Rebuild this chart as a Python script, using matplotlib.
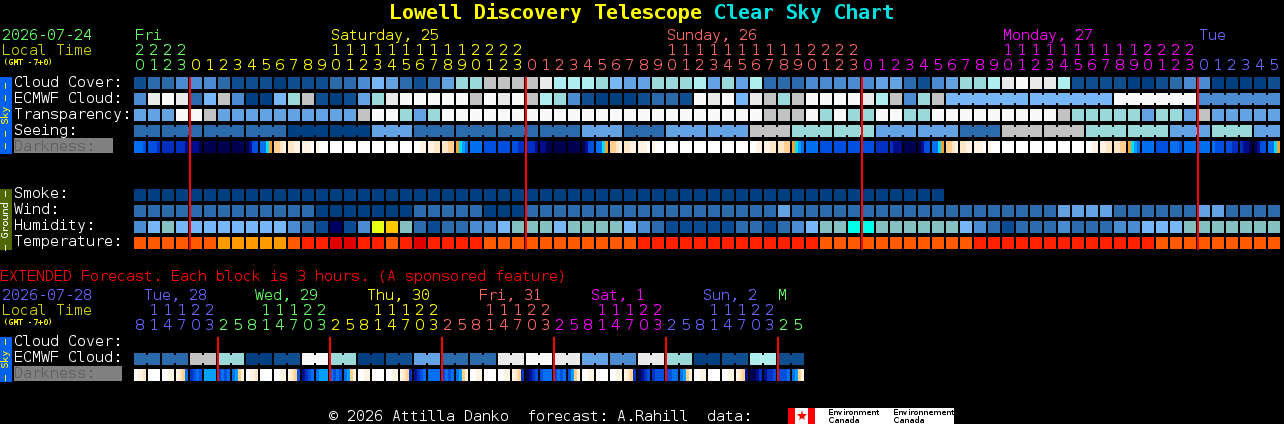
from __future__ import annotations

import matplotlib

matplotlib.use("Agg")
import matplotlib.pyplot as plt
from matplotlib.patches import Rectangle

plt.rcParams["text.antialiased"] = True
plt.rcParams["text.hinting"] = "native"
plt.rcParams["text.hinting_factor"] = 1
plt.rcParams["font.family"] = ["DejaVu Sans Mono"]

GREEN = "#66FF66"
YELLOW = "#FFFF00"
SALMON = "#FF6666"
MAGENTA = "#FF00FF"
BLUE = "#6666FF"
OLIVE = "#CCCC00"

# sky rows use 0 (clear / dark blue) ... 10 (overcast / white)
cloud_cover = [
    1, 2, 2, 3, 3, 3, 2, 1, 1, 1, 0, 1, 1, 1, 2, 2, 3, 5, 4, 2, 1,
    2, 4, 6, 6, 8, 8, 8, 8, 9, 7, 7, 7, 6, 5, 4, 4, 6, 6, 6, 7, 4, 6, 4, 7, 2, 2, 2, 3, 3, 3, 3,
    3, 4, 4, 2, 1, 3, 4, 6, 6, 7, 9, 10, 9, 9, 7, 1, 1, 1, 1, 0, 0, 1, 2, 3, 3, 0, 0, 0, 0, 1,
]
ecmwf_cloud = [
    3, 9, 10, 9, 2, 5, 8, 3, 0, 0, 5, 6, 8, 1, 0, 1, 4, 6, 9, 10, 10,
    10, 10, 10, 8, 10, 9, 10, 8, 7, 6, 3, 1, 0, 0, 0, 1, 2, 2, 1, 10, 9, 10, 5, 9, 8, 6, 8, 10, 10, 10, 10,
    9, 7, 8, 3, 6, 8, 5, 5, 5, 5, 5, 5, 5, 5, 5, 5, 5, 5, 10, 10, 10, 10, 10, 10, 3, 3, 3, 3, 3, 3,
]
transparency = [
    4, 4, 4, 10, 10, 8, 4, 4, 4, 4, 4, 4, 4, 4, 4, 4, 8, 10, 10, 6, 4,
    6, 10, 10, 10, 10, 10, 10, 10, 10, 10, 10, 10, 10, 10, 10, 10, 10, 10, 10, 10, 10, 10, 10, 10,
    8, 8, 8, 10, 6, 10, 6,
    6, 10, 10, 6, 6, 10, 10, 10, 10, 10, 10, 10, 10, 10, 8, 6, 6, 6, 6, 6, 4, 6, 6, 4, 8, 4, 4, 4, 4, 4,
]
# seeing comes in 3 hour runs
seeing_runs = [2, 3, 3, 3, 3, 3, 3, 3, 3, 3, 3, 3, 3, 3, 3, 3, 3, 3, 3, 3, 3, 3, 3, 3, 3, 3, 3, 2]
seeing_values = [2, 2, 2, 2, 0, 0, 4, 2, 2, 2, 2, 4, 2, 4, 4, 8, 6, 6, 4, 4, 2, 8, 8, 6, 6, 4, 6, 4]
smoke = [0] * 58
wind = [
    2, 2, 2, 2, 2, 2, 2, 2, 2, 2, 2, 2, 2, 0, 0, 0, 0, 0, 0, 0, 2,
    2, 2, 2, 2, 0, 0, 0, 2, 2, 2, 2, 2, 2, 2, 2, 2, 2, 2, 2, 2, 2, 2, 2, 2, 2, 4, 2, 2, 2, 2, 2,
    2, 2, 2, 2, 2, 2, 2, 2, 2, 2, 2, 2, 2, 2, 4, 4, 4, 4, 2, 2, 2, 2, 2, 2, 4, 4, 2, 2, 2, 2,
]
# humidity: index into humidity_colors
humidity = [
    3, 4, 5, 4, 4, 4, 4, 4, 4, 4, 4, 3, 2, 1, 0, 1, 3, 7, 8, 5, 2,
    1, 2, 2, 3, 3, 4, 5, 5, 5, 4, 5, 5, 5, 5, 4, 3, 2, 1, 1, 1, 1, 1, 2, 2, 1, 2, 3, 4, 5, 5, 6,
    6, 5, 5, 5, 5, 5, 5, 4, 3, 2, 1, 2, 2, 2, 3, 2, 2, 2, 3, 3, 4, 4, 4, 5, 5, 5, 5, 5, 5, 5,
]
# temperature: index into temperature_colors
temperature = [
    2, 2, 2, 2, 2, 2, 3, 3, 3, 3, 3, 2, 1, 1, 0, 0, 1, 1, 2, 1, 0,
    1, 1, 1, 1, 2, 2, 2, 2, 2, 2, 2, 2, 2, 2, 2, 1, 1, 1, 1, 1, 1, 1, 1, 1, 1, 1, 1, 1, 2, 2, 2,
    2, 2, 2, 2, 2, 2, 2, 2, 1, 1, 1, 1, 1, 1, 1, 1, 1, 1, 1, 1, 1, 2, 2, 2, 2, 2, 2, 2, 2, 2,
]
# four samples per block, 0 (navy) .. 9, a, b (white)
darkness = [
    "4443", "3332", "2222", "2221", "1110", "0000", "0000", "0000", "0133", "4467", "889a", "99aa",
    "aaab", "abbb", "bbbb", "bbbb", "bbbb", "bbbb", "bbbb", "bbbb", "bbaa", "aa99", "9988", "7654",
    "4444", "3333", "3333", "3322", "2221", "1100", "0000", "0000", "0133", "4467", "889a", "99aa",
    "aaab", "abbb", "bbbb", "bbbb", "bbbb", "bbbb", "bbbb", "bbbb", "bbaa", "aa99", "9988", "7654",
    "4444", "3333", "3333", "3333", "3333", "2222", "2111", "0000", "0133", "4467", "889a", "99aa",
    "aaab", "abbb", "bbbb", "bbbb", "bbbb", "bbbb", "bbbb", "bbbb", "bbaa", "aa99", "9988", "7654",
    "4444", "3333", "4443", "4444", "4444", "4333", "3322", "2110", "0133", "4467",
]
hour_labels = [
    20, 21, 22, 23, 0, 1, 2, 3, 4, 5, 6, 7, 8, 9, 10, 11, 12, 13, 14, 15, 16, 17, 18, 19, 20, 21, 22, 23,
    0, 1, 2, 3, 4, 5, 6, 7, 8, 9, 10, 11, 12, 13, 14, 15, 16, 17, 18, 19, 20, 21, 22, 23,
    0, 1, 2, 3, 4, 5, 6, 7, 8, 9, 10, 11, 12, 13, 14, 15, 16, 17, 18, 19, 20, 21, 22, 23,
    0, 1, 2, 3, 4, 5,
]
hour_spans = [4, 24, 24, 24, 6]
hour_span_colors = [GREEN, YELLOW, SALMON, MAGENTA, BLUE]
day_names = ["Fri", "Saturday, 25", "Sunday, 26", "Monday, 27", "Tue"]
day_x = [135, 331, 667, 1003, 1199]

ext_ecmwf = [2, 2, 8, 6, 0, 1, 10, 6, 0, 1, 4, 2, 2, 9, 10, 9, 4, 3, 9, 6, 0, 1, 7, 1]
ext_darkness = [
    "baa9", "bbbb", "bbaa", "a984", "2343", "5555", "3434", "458a",
    "baa9", "bbbb", "bbaa", "a983", "1234", "4555", "4343", "458a",
    "bbaa", "bbbb", "bbaa", "a982", "1234", "4444", "3434", "458a",
    "bbaa", "bbbb", "bbaa", "a982", "0123", "3444", "3434", "358a",
    "bbaa", "bbbb", "bbaa", "a982", "0123", "2333", "3344", "458a",
    "bbaa", "bbbb", "bbaa", "a981", "0012", "1223", "3334", "458a",
]
ext_hour_labels = [
    8, 11, 14, 17, 20, 23, 2, 5, 8, 11, 14, 17, 20, 23, 2, 5, 8, 11, 14, 17, 20, 23, 2, 5,
    8, 11, 14, 17, 20, 23, 2, 5, 8, 11, 14, 17, 20, 23, 2, 5, 8, 11, 14, 17, 20, 23, 2, 5,
]
ext_hour_spans = [6, 8, 8, 8, 8, 8, 2]
ext_hour_span_colors = [BLUE, GREEN, YELLOW, SALMON, MAGENTA, BLUE, GREEN]
ext_day_names = ["Tue, 28", "Wed, 29", "Thu, 30", "Fri, 31", "Sat, 1", "Sun, 2", "M"]
ext_day_x = [144, 255, 367, 479, 591, 703, 778]
ext_day_colors = [BLUE, GREEN, YELLOW, SALMON, MAGENTA, BLUE, GREEN]

sky_colors = [
    "#003F7F", "#0F4F8F", "#2B6BAB", "#4B8BCF", "#63A3E3", "#77B7F7",
    "#99D9D9", "#AEEEEE", "#C2C2C2", "#EAEAEA", "#F9F9F9",
]
humidity_colors = ["#000060", "#0A4A90", "#2C6CAC", "#4A8CD0", "#77B7F7", "#84C0C0", "#00FFE6", "#E6FF14", "#FFC800"]
temperature_colors = ["#E00000", "#FF2000", "#FF5A00", "#FF9A00"]
darkness_colors = {
    "0": "#000050", "1": "#000E8C", "2": "#0030C0", "3": "#0050E0", "4": "#0070F0", "5": "#00A0FF",
    "6": "#00E0FF", "7": "#FFA030", "8": "#FFCF90", "9": "#FFE6C6", "a": "#FFF4E4", "b": "#FFFFFF",
}

X0 = 134
PITCH = 14
BLOCK = 12


def box(ax, x, y, w, h, color):
    ax.add_patch(Rectangle((x, y), w, h, facecolor=color, edgecolor="none", linewidth=0, antialiased=False))


def label(ax, x, y, s, color="white", size=10.8, **kw):
    ax.text(x, y, s, color=color, fontsize=size, va="baseline", ha=kw.pop("ha", "left"), **kw)


def draw_row(ax, values, y, colors, runs=None, run_start=0):
    for i, v in enumerate(values):
        box(ax, X0 + PITCH * i, y, BLOCK, BLOCK, colors[v])
    if runs is None:
        return
    # the bridge between blocks of one run is narrower than the block
    i = run_start
    for n in runs:
        for k in range(i, i + n - 1):
            box(ax, X0 + PITCH * k + BLOCK, y + 2, PITCH - BLOCK, BLOCK - 4, colors[values[k]])
        i += n


def draw_darkness(ax, blocks, y):
    for i, samples in enumerate(blocks):
        for k, s in enumerate(samples):
            box(ax, X0 + PITCH * i + 3 * k, y, 3, BLOCK, darkness_colors[s])


def draw_hours(ax, hours, spans, colors, tens_y, ones_y):
    span_colors = []
    for n, c in zip(spans, colors):
        span_colors += [c] * n
    for i, h in enumerate(hours):
        cx = X0 + PITCH * i + 6
        if h >= 10:
            ax.text(cx, tens_y, str(h // 10), color=span_colors[i], fontsize=10.8, ha="center", va="baseline",
                    family="DejaVu Sans")
        ax.text(cx, ones_y, str(h % 10), color=span_colors[i], fontsize=10.8, ha="center", va="baseline",
                family="DejaVu Sans")


def side_bar(ax, y, h, color, text, text_color):
    box(ax, 0, y, 12, h, color)
    ax.text(6, y + h / 2, text, color=text_color, fontsize=7.2, rotation=90, ha="center", va="center")


fig = plt.figure(figsize=(12.84, 4.24), dpi=100, facecolor="black")
ax = fig.add_axes([0, 0, 1, 1])
ax.set_xlim(0, 1284)
ax.set_ylim(424, 0)
ax.axis("off")

# title
label(ax, 390, 19, "Lowell Discovery Telescope", YELLOW, 14.3, fontweight="bold")
label(ax, 714, 19, "Clear Sky Chart", "#00E0E0", 14.3, fontweight="bold")

# header of the hourly chart
label(ax, 2, 40, "2026-07-24", GREEN)
label(ax, 2, 55, "Local Time", OLIVE)
label(ax, 3, 65, "(GMT -7+0)", YELLOW, 5.6)
for name, x, color in zip(day_names, day_x, hour_span_colors):
    label(ax, x, 40, name, color)
draw_hours(ax, hour_labels, hour_spans, hour_span_colors, 55, 70)

side_bar(ax, 77, 77, "#0060F0", "– – Sky – –", YELLOW)
side_bar(ax, 189, 61, "#4F6800", "– Ground –", "white")

label(ax, 14, 87, "Cloud Cover:")
label(ax, 14, 103, "ECMWF Cloud:")
label(ax, 14, 119, "Transparency:")
label(ax, 14, 135, "Seeing:")
box(ax, 14, 138, 99, 15, "#808080")
label(ax, 14, 151, "Darkness:", "#5F5F5F")
label(ax, 14, 198, "Smoke:")
label(ax, 14, 214, "Wind:")
label(ax, 14, 230, "Humidity:")
label(ax, 14, 246, "Temperature:")

seeing = []
for n, v in zip(seeing_runs, seeing_values):
    seeing += [v] * n

draw_row(ax, cloud_cover, 77, sky_colors)
draw_row(ax, ecmwf_cloud, 93, sky_colors, runs=[6, 6, 6, 6], run_start=58)
draw_row(ax, transparency, 109, sky_colors)
draw_row(ax, seeing, 125, sky_colors, runs=seeing_runs)
draw_darkness(ax, darkness, 141)
draw_row(ax, smoke, 189, sky_colors)
draw_row(ax, wind, 205, sky_colors)
draw_row(ax, humidity, 221, humidity_colors)
draw_row(ax, temperature, 237, temperature_colors)

for x in [189, 525, 861, 1197]:
    box(ax, x, 77, 2, 173, "#FF0000")

# extended forecast
label(ax, 0, 281, "EXTENDED Forecast. Each block is 3 hours. (A sponsored feature)", "#FF0000")
label(ax, 2, 300, "2026-07-28", BLUE)
label(ax, 2, 315, "Local Time", OLIVE)
label(ax, 3, 325, "(GMT -7+0)", YELLOW, 5.6)
for name, x, color in zip(ext_day_names, ext_day_x, ext_day_colors):
    label(ax, x, 300, name, color)
draw_hours(ax, ext_hour_labels, ext_hour_spans, ext_hour_span_colors, 315, 330)

side_bar(ax, 337, 45, "#0060F0", "– Sky –", YELLOW)
label(ax, 14, 346, "Cloud Cover:")
label(ax, 14, 362, "ECMWF Cloud:")
box(ax, 14, 366, 108, 15, "#808080")
label(ax, 14, 378, "Darkness:", "#5F5F5F")

ext_blocks = []
for v in ext_ecmwf:
    ext_blocks += [v, v]
draw_row(ax, ext_blocks, 353, sky_colors, runs=[2] * len(ext_ecmwf))
draw_darkness(ax, ext_darkness, 369)

for x in [217, 329, 441, 553, 665, 777]:
    box(ax, x, 337, 2, 44, "#FF0000")

# footer and data credit logo
label(ax, 329, 421, "© 2026 Attilla Danko  forecast: A.Rahill  data:")
box(ax, 788, 408, 166, 16, "white")
box(ax, 788, 408, 7, 16, "#FF0000")
box(ax, 808, 408, 7, 16, "#FF0000")
ax.plot([801.5], [416], marker="*", markersize=8, color="#FF0000", markeredgewidth=0)
for x, word in [(828, "Environment"), (893, "Environnement")]:
    ax.text(x, 415, word, color="black", fontsize=5.6, family="DejaVu Sans", va="baseline")
    ax.text(x, 423, "Canada", color="black", fontsize=5.6, family="DejaVu Sans", va="baseline")

fig.savefig("out.png", dpi=100, facecolor="black")
